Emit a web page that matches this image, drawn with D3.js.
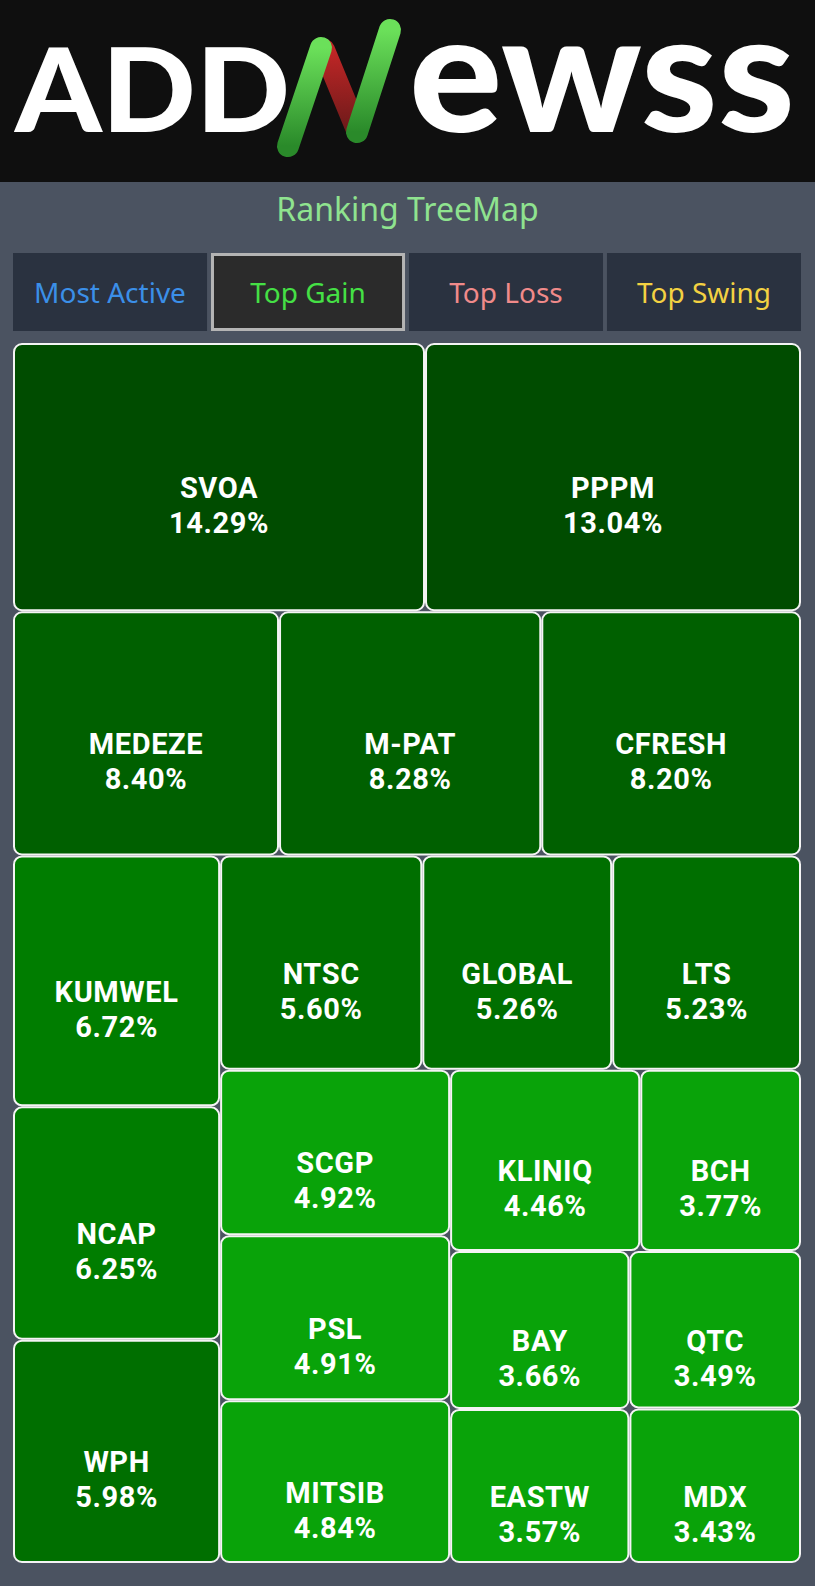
<!DOCTYPE html>
<html>
<head>
<meta charset="utf-8">
<script src="https://cdn.jsdelivr.net/npm/d3@7"></script>
<style>
  html, body { margin: 0; padding: 0; background: #4b5361; }
  svg { display: block; }
</style>
</head>
<body>
<div id="chart"></div>
<script>
// ranking data (Top Gain)
const tickers = ["SVOA", "PPPM", "MEDEZE", "M-PAT", "CFRESH", "KUMWEL", "NCAP", "WPH",
  "NTSC", "GLOBAL", "LTS", "SCGP", "PSL", "MITSIB", "KLINIQ", "BCH", "BAY", "EASTW", "QTC", "MDX"];
const gains = [14.29, 13.04, 8.40, 8.28, 8.20, 6.72, 6.25, 5.98,
  5.60, 5.26, 5.23, 4.92, 4.91, 4.84, 4.46, 3.77, 3.66, 3.57, 3.49, 3.43];

const tabs = ["Most Active", "Top Gain", "Top Loss", "Top Swing"];
const tabColors = ["#3b8fe8", "#45e045", "#f08a8a", "#f3d142"];
const activeTab = 1;

// colour bands for the cells
const bandLimits = [5, 6, 8, 10];
const bandColors = ["#09a309", "#006f00", "#007d00", "#006000", "#004c00"];

const width = 815;
const height = 1586;
const map = { left: 13, top: 343, width: 788, height: 1220 };

const svg = d3.select("#chart")
  .append("svg")
  .attr("width", width)
  .attr("height", height);

// header
svg.append("rect")
  .attr("width", width)
  .attr("height", 182)
  .attr("fill", "#0f0f0f");

const defs = svg.append("defs");
const greenGrad = defs.append("linearGradient")
  .attr("id", "green-grad")
  .attr("x1", 0).attr("y1", 0).attr("x2", 0).attr("y2", 1);
greenGrad.append("stop").attr("offset", "0%").attr("stop-color", "#6be05a");
greenGrad.append("stop").attr("offset", "100%").attr("stop-color", "#2a8a2a");
const redGrad = defs.append("linearGradient")
  .attr("id", "red-grad")
  .attr("x1", 0).attr("y1", 0).attr("x2", 0).attr("y2", 1);
redGrad.append("stop").attr("offset", "0%").attr("stop-color", "#c02626");
redGrad.append("stop").attr("offset", "100%").attr("stop-color", "#6e1a1a");

const logo = svg.append("g").attr("class", "logo");

logo.append("text")
  .attr("x", 15)
  .attr("y", 132)
  .attr("textLength", 275)
  .attr("lengthAdjust", "spacingAndGlyphs")
  .style("font-family", "Lato, 'Open Sans', sans-serif")
  .style("font-weight", 900)
  .style("font-size", "117px")
  .attr("fill", "#ffffff")
  .text("ADD");

// the N drawn as a chart stroke
logo.append("line")
  .attr("x1", 324).attr("y1", 50).attr("x2", 357).attr("y2", 130)
  .attr("stroke", "url(#red-grad)")
  .attr("stroke-width", 22)
  .attr("stroke-linecap", "round");
logo.append("line")
  .attr("x1", 321).attr("y1", 48).attr("x2", 288).attr("y2", 146)
  .attr("stroke", "url(#green-grad)")
  .attr("stroke-width", 22)
  .attr("stroke-linecap", "round");
logo.append("line")
  .attr("x1", 390).attr("y1", 30).attr("x2", 357).attr("y2", 132)
  .attr("stroke", "url(#green-grad)")
  .attr("stroke-width", 22)
  .attr("stroke-linecap", "round");

logo.append("text")
  .attr("x", 409)
  .attr("y", 132)
  .attr("textLength", 386)
  .attr("lengthAdjust", "spacingAndGlyphs")
  .style("font-family", "Lato, 'Open Sans', sans-serif")
  .style("font-weight", 900)
  .style("font-size", "166px")
  .attr("fill", "#ffffff")
  .text("ewss");

// title
svg.append("text")
  .attr("x", width / 2)
  .attr("y", 221)
  .attr("text-anchor", "middle")
  .style("font-family", "'Noto Sans', 'Open Sans', sans-serif")
  .style("font-size", "32px")
  .attr("fill", "#8fe38f")
  .text("Ranking TreeMap");

// tab buttons
const tabScale = d3.scaleBand()
  .domain(tabs)
  .range([map.left, map.left + map.width])
  .paddingInner(0.02);

const tab = svg.selectAll("g.tab")
  .data(tabs)
  .enter()
  .append("g")
  .attr("class", "tab")
  .attr("transform", (d) => `translate(${tabScale(d)}, 253)`);

tab.append("rect")
  .attr("x", (d, i) => (i === activeTab ? 1.5 : 0))
  .attr("y", (d, i) => (i === activeTab ? 1.5 : 0))
  .attr("width", (d, i) => tabScale.bandwidth() - (i === activeTab ? 3 : 0))
  .attr("height", (d, i) => 78 - (i === activeTab ? 3 : 0))
  .attr("fill", (d, i) => (i === activeTab ? "#2b2b2b" : "#2a3240"))
  .attr("stroke", (d, i) => (i === activeTab ? "#b4b4b4" : "none"))
  .attr("stroke-width", 3);

tab.append("text")
  .attr("x", tabScale.bandwidth() / 2)
  .attr("y", 50)
  .attr("text-anchor", "middle")
  .style("font-family", "'Noto Sans', 'Open Sans', sans-serif")
  .style("font-size", "28px")
  .attr("fill", (d, i) => tabColors[i])
  .text((d) => d);

// treemap
const root = d3.hierarchy({
  children: tickers.map((t, i) => ({ name: t, value: gains[i] })),
})
  .sum((d) => d.value || 0)
  .sort((a, b) => b.value - a.value);

d3.treemap()
  .size([map.width, map.height])
  .tile(d3.treemapSquarify.ratio(1))
  .round(false)(root);

const colorScale = d3.scaleThreshold()
  .domain(bandLimits)
  .range(bandColors);

const cells = svg.append("g")
  .attr("transform", `translate(${map.left}, ${map.top})`)
  .selectAll("g")
  .data(root.leaves())
  .enter()
  .append("g")
  .attr("transform", (d) => `translate(${d.x0}, ${d.y0})`);

cells.append("rect")
  .attr("x", 1)
  .attr("y", 1)
  .attr("width", (d) => d.x1 - d.x0 - 2)
  .attr("height", (d) => d.y1 - d.y0 - 2)
  .attr("rx", 8)
  .attr("ry", 8)
  .attr("fill", (d) => colorScale(d.data.value))
  .attr("stroke", "#f4f4f4")
  .attr("stroke-width", 2);

// two lines per cell: ticker and gain
cells.append("text")
  .attr("x", (d) => (d.x1 - d.x0) / 2)
  .attr("y", (d) => (d.y1 - d.y0) / 2 + 21)
  .attr("text-anchor", "middle")
  .style("font-family", "Roboto, 'Noto Sans', sans-serif")
  .style("font-weight", 700)
  .style("font-size", "29px")
  .style("letter-spacing", "0.6px")
  .attr("fill", "#ffffff")
  .text((d) => d.data.name);

cells.append("text")
  .attr("x", (d) => (d.x1 - d.x0) / 2)
  .attr("y", (d) => (d.y1 - d.y0) / 2 + 56)
  .attr("text-anchor", "middle")
  .style("font-family", "Roboto, 'Noto Sans', sans-serif")
  .style("font-weight", 700)
  .style("font-size", "29px")
  .style("letter-spacing", "0.6px")
  .attr("fill", "#ffffff")
  .text((d) => d.data.value.toFixed(2) + "%");
</script>
</body>
</html>
